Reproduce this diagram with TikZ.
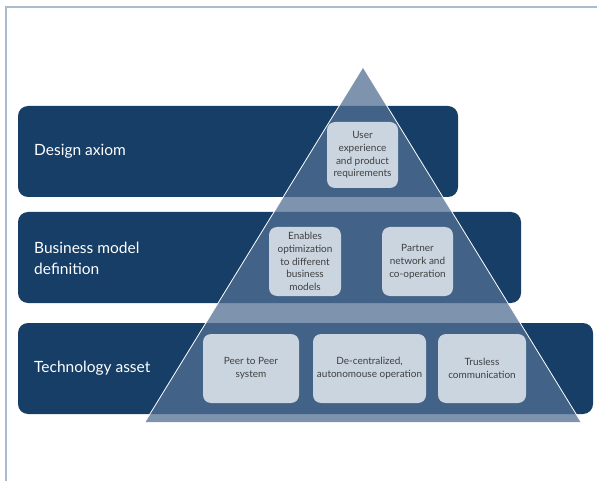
\documentclass[tikz,border=0pt]{standalone}
\usepackage{fontspec}
\setmainfont{Lato}
\definecolor{barc}{HTML}{163E66}
\definecolor{pyrc}{HTML}{526F93}
\definecolor{boxc}{HTML}{CAD5E0}
\definecolor{framec}{HTML}{A9BCCE}
\definecolor{txtc}{HTML}{404040}
\tikzset{
  barbox/.style={fill=barc, rounded corners=10pt, inner sep=0pt, outer sep=0pt, anchor=north west},
  barlabel/.style={text=white, anchor=west, align=left, inner sep=0pt, font=\fontsize{15.5}{21}\selectfont},
  itembox/.style={fill=boxc, rounded corners=8pt, inner sep=0pt, outer sep=0pt, anchor=north west, align=center, text=txtc, font=\fontsize{10}{12.8}\selectfont},
}
\begin{document}
\begin{tikzpicture}[x=1pt,y=-1pt]
\useasboundingbox (0,0) rectangle (597,481);
\draw[framec, line width=2pt] (6,481) -- (6,7) -- (597,7);
% bars
\node[barbox, minimum width=440pt, minimum height=91pt] (b1) at (18,106) {};
\node[barbox, minimum width=503pt, minimum height=91pt] (b2) at (18,212) {};
\node[barbox, minimum width=575pt, minimum height=91pt] (b3) at (18,323) {};
\node[barlabel] (l1) at (34,151) {Design axiom};
\node[barlabel] (l2) at (34,258) {Business model\\definition};
\node[barlabel] (l3) at (34,368) {Technology asset};
% pyramid
\coordinate (apex) at (363,67);
\coordinate (bl) at (145,422);
\coordinate (br) at (581,422);
\fill[pyrc, fill opacity=0.75] (apex) -- (bl) -- (br) -- cycle;
\draw[white, line width=0.8pt] (bl) -- (apex) -- (br);
% items
\node[itembox, minimum width=71pt, minimum height=66pt] (i1) at (327,122) {User\\experience\\and product\\requirements};
\node[itembox, minimum width=72pt, minimum height=69pt] (i2) at (269,227) {Enables\\optimization\\to different\\business\\models};
\node[itembox, minimum width=71pt, minimum height=69pt] (i3) at (382,227) {Partner\\network and\\co-operation};
\node[itembox, minimum width=96pt, minimum height=69pt] (i4) at (203,334) {Peer to Peer\\system};
\node[itembox, minimum width=113pt, minimum height=69pt] (i5) at (313,334) {De-centralized,\\autonomouse operation};
\node[itembox, minimum width=88pt, minimum height=69pt] (i6) at (438,334) {Trusless\\communication};
\end{tikzpicture}
\end{document}
